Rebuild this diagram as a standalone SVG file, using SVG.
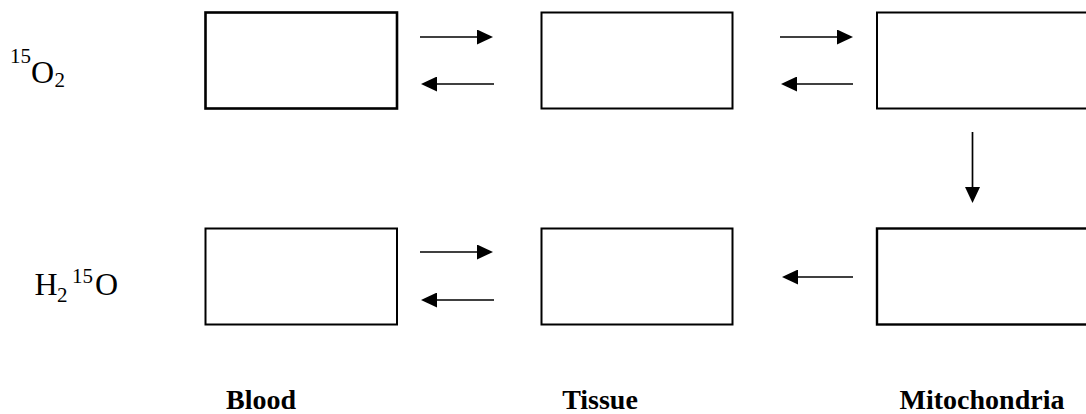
<svg xmlns="http://www.w3.org/2000/svg" width="1086" height="414" viewBox="0 0 1086 414">
<style>
.box{fill:#fff;stroke:#000;stroke-width:2}
.arr{stroke:#000;stroke-width:1.7;fill:none;marker-end:url(#ah)}
.lab{font-family:"Liberation Serif","Times New Roman",serif;font-weight:bold;font-size:28px;text-anchor:middle;fill:#000}
.chem{font-family:"Liberation Serif","Times New Roman",serif;font-size:32px;fill:#000}
.sm{font-size:21px}
</style>
<defs>
<marker id="ah" markerUnits="userSpaceOnUse" markerWidth="16" markerHeight="15" refX="6" refY="7.5" orient="auto">
<path d="M0,0 L16,7.5 L0,15 Z" fill="#000"/>
</marker>
</defs>
<rect width="1086" height="414" fill="#fff"/>
<g id="species">
<text class="chem"><tspan class="sm" x="10" y="63">15</tspan><tspan x="31" y="83">O</tspan><tspan class="sm" x="54.5" y="87">2</tspan></text>
<text class="chem"><tspan x="34.5" y="295">H</tspan><tspan class="sm" x="57" y="302">2</tspan><tspan class="sm" x="72" y="283">15</tspan><tspan x="95" y="295">O</tspan></text>
</g>
<g id="blood-o2"><rect class="box" x="205.5" y="12.5" width="191.5" height="96" style="stroke-width:2.6"/></g>
<g id="tissue-o2"><rect class="box" x="541.5" y="12.5" width="191" height="96"/></g>
<g id="mito-o2"><rect class="box" x="877" y="12.5" width="215" height="96"/></g>
<g id="blood-h2o"><rect class="box" x="205.5" y="228.5" width="191.5" height="96"/></g>
<g id="tissue-h2o"><rect class="box" x="541.5" y="228.5" width="191" height="96"/></g>
<g id="mito-h2o"><rect class="box" x="877" y="228.5" width="215" height="96" style="stroke-width:2.4"/></g>
<g id="connectors">
<line class="arr" x1="420" y1="37" x2="483" y2="37"/>
<line class="arr" x1="494" y1="84" x2="431" y2="84"/>
<line class="arr" x1="780" y1="37" x2="843" y2="37"/>
<line class="arr" x1="853" y1="84" x2="791" y2="84"/>
<line class="arr" x1="972.5" y1="132" x2="972.5" y2="193"/>
<line class="arr" x1="420" y1="252" x2="483" y2="252"/>
<line class="arr" x1="494" y1="300" x2="431" y2="300"/>
<line class="arr" x1="853" y1="277" x2="792" y2="277"/>
</g>
<g id="labels">
<text class="lab" x="261" y="409">Blood</text>
<text class="lab" x="600" y="409">Tissue</text>
<text class="lab" x="982" y="409">Mitochondria</text>
</g>
</svg>
